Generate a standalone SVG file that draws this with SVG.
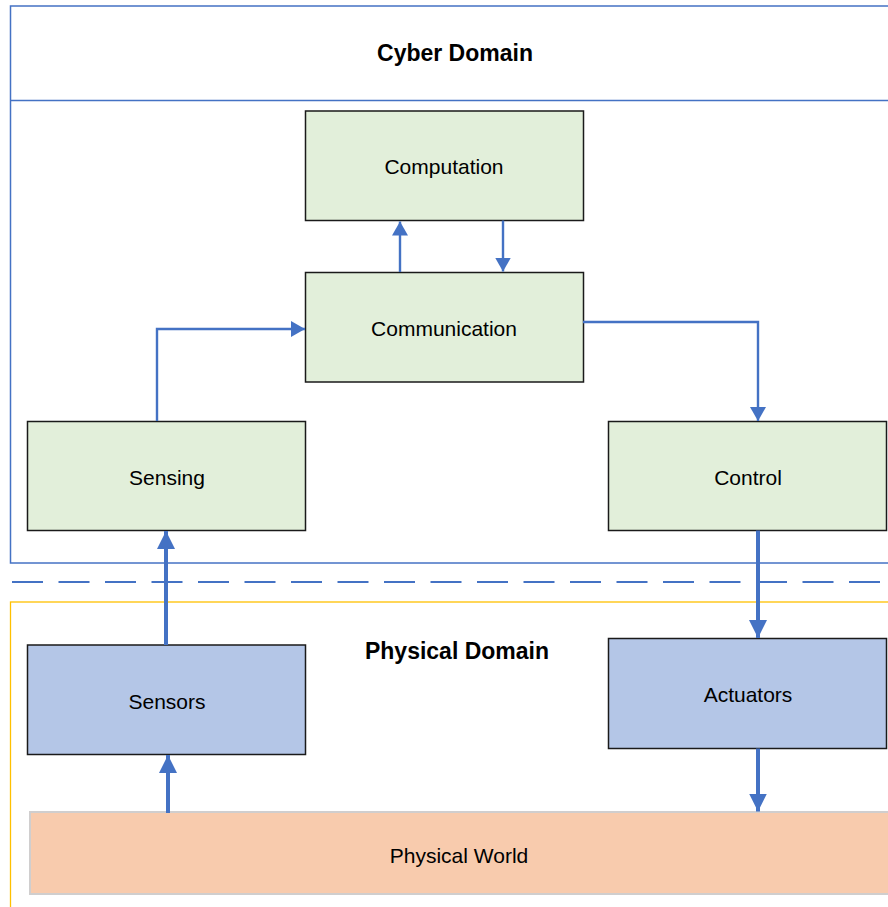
<svg xmlns="http://www.w3.org/2000/svg" width="888" height="907" viewBox="0 0 888 907">
  <style>
    .domain-cyber { fill: none; stroke: #4472C4; stroke-width: 1.5; }
    .domain-phys { fill: none; stroke: #FFC000; stroke-width: 1.3; }
    .divider { fill: none; stroke: #4472C4; stroke-width: 2; stroke-dasharray: 31 15.5; }
    .cyber { fill: #E2EFDA; stroke: #1a1a1a; stroke-width: 1.5; }
    .device { fill: #B4C6E7; stroke: #1a1a1a; stroke-width: 1.5; }
    .world { fill: #F8CBAD; stroke: #D0CECE; stroke-width: 2; }
    .label { font-family: "Liberation Sans", Arial, sans-serif; font-size: 21px; fill: #000; text-anchor: middle; dominant-baseline: central; }
    .title { font-family: "Liberation Sans", Arial, sans-serif; font-size: 23px; font-weight: bold; fill: #000; text-anchor: middle; dominant-baseline: central; }
    .link { fill: none; stroke: #4472C4; stroke-width: 2.4; }
    .link-thick { fill: none; stroke: #4472C4; stroke-width: 4; }
  </style>
  <defs>
    <marker id="head" markerUnits="userSpaceOnUse" markerWidth="15" markerHeight="17" refX="14" refY="8" orient="auto">
      <path d="M0,0 L14,8 L0,16 Z" fill="#4472C4"/>
    </marker>
    <marker id="head-thick" markerUnits="userSpaceOnUse" markerWidth="19" markerHeight="19" refX="18" refY="9" orient="auto">
      <path d="M0,0 L18,9 L0,18 Z" fill="#4472C4"/>
    </marker>
  </defs>

  <rect width="888" height="907" fill="#fff"/>

  <!-- domain frames -->
  <g id="cyber-domain">
    <rect class="domain-cyber" x="10.5" y="6" width="890" height="557"/>
    <line class="domain-cyber" x1="10.5" y1="100.5" x2="888" y2="100.5"/>
    <text class="title" x="455" y="53">Cyber Domain</text>
  </g>
  <line id="domain-boundary" class="divider" x1="12" y1="582" x2="888" y2="582"/>
  <g id="physical-domain">
    <rect class="domain-phys" x="10.5" y="602" width="890" height="320"/>
    <text class="title" x="457" y="651">Physical Domain</text>
  </g>

  <!-- nodes -->
  <g id="computation">
    <rect class="cyber" x="305.5" y="111" width="278" height="109.5"/>
    <text class="label" x="444" y="166">Computation</text>
  </g>
  <g id="communication">
    <rect class="cyber" x="305.5" y="272.5" width="278" height="109.5"/>
    <text class="label" x="444" y="328">Communication</text>
  </g>
  <g id="sensing">
    <rect class="cyber" x="27.5" y="421.5" width="278" height="109"/>
    <text class="label" x="167" y="477">Sensing</text>
  </g>
  <g id="control">
    <rect class="cyber" x="608.5" y="421.5" width="278" height="109"/>
    <text class="label" x="748" y="477">Control</text>
  </g>
  <g id="sensors">
    <rect class="device" x="27.5" y="645" width="278" height="109.5"/>
    <text class="label" x="167" y="701">Sensors</text>
  </g>
  <g id="actuators">
    <rect class="device" x="608.5" y="638.5" width="278" height="110"/>
    <text class="label" x="748" y="694">Actuators</text>
  </g>
  <g id="physical-world">
    <rect class="world" x="30" y="812" width="866" height="82"/>
    <text class="label" x="459" y="855">Physical World</text>
  </g>

  <!-- connectors -->
  <g id="connectors">
    <path class="link" d="M400,272 V221.5" marker-end="url(#head)"/>
    <path class="link" d="M503,220.5 V271.5" marker-end="url(#head)"/>
    <path class="link" d="M157,421 V329 H305" marker-end="url(#head)"/>
    <path class="link" d="M583,322 H758 V421" marker-end="url(#head)"/>
    <path class="link-thick" d="M166,645 V531" marker-end="url(#head-thick)"/>
    <path class="link-thick" d="M758,530.5 V638" marker-end="url(#head-thick)"/>
    <path class="link-thick" d="M168,813 V755" marker-end="url(#head-thick)"/>
    <path class="link-thick" d="M758,748.5 V811.5" marker-end="url(#head-thick)"/>
  </g>
</svg>
